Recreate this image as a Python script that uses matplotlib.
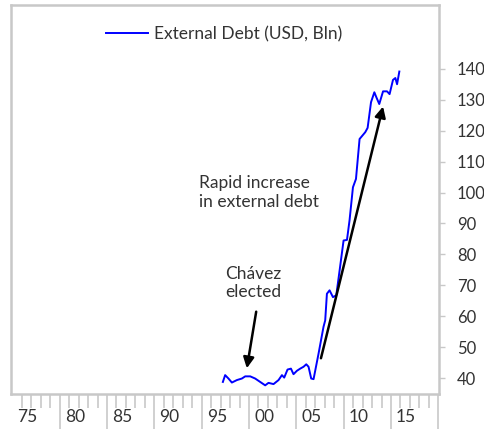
import numpy as np
import matplotlib
matplotlib.use("Agg")
from matplotlib import pyplot as plt

plt.rcParams['font.family'] = ['Lato', 'DejaVu Sans']

# external debt (year, USD bln)
years = [1995.64, 1995.88, 1996.23, 1996.59, 1997.12, 1997.65, 1998.0, 1998.53,
         1999.05, 1999.58, 2000.11, 2000.46, 2000.99, 2001.52, 2001.88, 2002.12,
         2002.47, 2002.83, 2003.1, 2003.46, 2003.81, 2004.16, 2004.45, 2004.69,
         2004.97, 2005.22, 2005.75, 2006.27, 2006.45, 2006.63, 2006.91, 2007.27,
         2007.62, 2007.97, 2008.39, 2008.75, 2009.02, 2009.38, 2009.7, 2010.08,
         2010.68, 2010.93, 2011.29, 2011.64, 2011.85, 2012.16, 2012.56, 2012.98,
         2013.25, 2013.61, 2013.86, 2014.04, 2014.28]
debt = [38.8, 41.0, 39.9, 38.6, 39.4, 39.9, 40.6, 40.6,
        39.9, 38.8, 37.7, 38.5, 38.1, 39.4, 41.0, 40.2,
        42.8, 43.1, 41.3, 42.4, 43.1, 43.7, 44.5, 43.7,
        39.9, 39.7, 48.0, 56.6, 58.7, 67.3, 68.4, 66.2,
        66.8, 74.8, 84.5, 84.7, 91.0, 101.7, 104.4, 117.3,
        119.5, 120.9, 129.2, 132.4, 130.8, 128.6, 132.7, 132.7,
        131.8, 136.4, 137.0, 135.0, 139.1]

label_years = [1975, 1980, 1985, 1990, 1995, 2000, 2005, 2010, 2015]
label_text = ['75', '80', '85', '90', '95', '00', '05', '10', '15']
y_ticks = [40, 50, 60, 70, 80, 90, 100, 110, 120, 130, 140]

grey = '#c8c8c8'
txt = '#333333'

fig = plt.figure(figsize=(4.85, 4.29), dpi=100)
ax = fig.add_axes([11/485, 35/429, 428/485, 389/429])

ax.plot(years, debt, color='#0000ff', lw=1.4, label='External Debt (USD, Bln)')

ax.set_xlim(1973.26, 2018.47)
ax.set_ylim(34.9, 160.6)

for s in ax.spines.values():
    s.set_color(grey)
    s.set_linewidth(1.8)

# y axis on the right
ax.yaxis.tick_right()
ax.set_yticks(y_ticks)
ax.set_yticklabels([str(v) for v in y_ticks])
ax.tick_params(axis='y', which='major', length=4, width=1, color=grey,
               pad=9, labelsize=12, labelcolor=txt)

# x axis: long ticks every 5 years, short ticks every year
ax.set_xticks(np.arange(1978.4, 2019, 5))
ax.set_xticks(np.arange(1974.4, 2018, 1), minor=True)
ax.tick_params(axis='x', which='major', length=35, width=1.2, color=grey,
               labelbottom=False)
ax.tick_params(axis='x', which='minor', length=10, width=1.2, color=grey)

sec = ax.secondary_xaxis('bottom')
sec.set_xticks(label_years)
sec.set_xticklabels(label_text)
sec.tick_params(length=0, pad=11, labelsize=12.5, labelcolor=txt)
sec.spines['bottom'].set_visible(False)

leg = ax.legend(loc='center', bbox_to_anchor=(0.498, 0.925), frameon=False,
                fontsize=12.5, handlelength=2.4, handletextpad=0.35)
for t in leg.get_texts():
    t.set_color(txt)

ax.text(1975 + (199 - 27.5)/9.458, 40 + (378.3 - 192)/3.1,
        'Rapid increase\nin external debt', fontsize=12.5, color=txt,
        ha='left', va='center', linespacing=1.2)
ax.text(1975 + (253 - 27.5)/9.458, 40 + (378.3 - 283)/3.1,
        'Chávez\nelected', fontsize=12.5, color=txt,
        ha='center', va='center', linespacing=1.2)

arrow = dict(arrowstyle='-|>', color='black', lw=1.8, mutation_scale=16,
             shrinkA=0, shrinkB=0)
ax.annotate('', xy=(1998.17, 43.2), xytext=(1999.16, 61.5), arrowprops=arrow)
ax.annotate('', xy=(2012.56, 127.8), xytext=(2006.0, 46.45), arrowprops=arrow)

fig.savefig('out.png', dpi=100)
